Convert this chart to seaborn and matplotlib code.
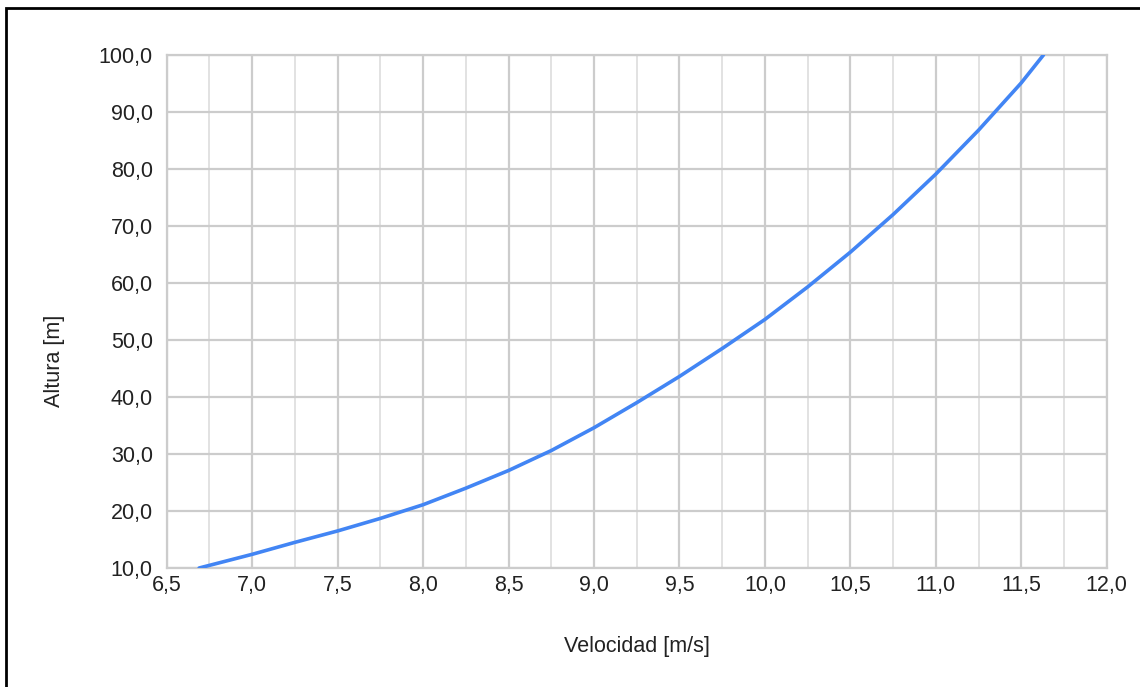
import matplotlib
matplotlib.use("Agg")
import matplotlib.pyplot as plt
from matplotlib.patches import Rectangle
from matplotlib.ticker import MultipleLocator, FuncFormatter
import seaborn as sns
import pandas as pd

# Wind speed vs. height profile
velocidad = [6.69, 7.0, 7.25, 7.5, 7.75, 8.0, 8.25, 8.5, 8.75, 9.0, 9.25,
             9.5, 9.75, 10.0, 10.25, 10.5, 10.75, 11.0, 11.25, 11.5, 11.63]
altura = [10.0, 12.4, 14.5, 16.5, 18.7, 21.1, 24.0, 27.1, 30.6, 34.6, 39.0,
          43.6, 48.5, 53.6, 59.3, 65.4, 72.0, 79.1, 86.8, 95.1, 100.0]

x_label = "Velocidad [m/s]"
y_label = "Altura [m]"

df = pd.DataFrame({x_label: velocidad, y_label: altura})

sns.set_theme(style="white")
plt.rcParams["font.family"] = ["Liberation Sans", "DejaVu Sans"]

fig = plt.figure(figsize=(11.4, 6.87), dpi=100)
ax = fig.add_axes([0.1462, 0.1732, 0.9708 - 0.1462, 0.92 - 0.1732])

sns.lineplot(data=df, x=x_label, y=y_label, ax=ax, color="#4285F4",
             linewidth=2.6, sort=False, zorder=3)

ax.set_xlim(6.5, 12.0)
ax.set_ylim(10, 100)
ax.xaxis.set_major_locator(MultipleLocator(0.5))
ax.xaxis.set_minor_locator(MultipleLocator(0.25))
ax.yaxis.set_major_locator(MultipleLocator(10))

comma = FuncFormatter(lambda v, p: f"{v:.1f}".replace(".", ","))
ax.xaxis.set_major_formatter(comma)
ax.yaxis.set_major_formatter(comma)

ax.grid(which="major", axis="both", color="#cccccc", linewidth=1.6)
ax.grid(which="minor", axis="x", color="#e2e2e2", linewidth=1.4)
ax.set_axisbelow(True)

for side in ax.spines.values():
    side.set_color("#cccccc")
    side.set_linewidth(1.6)

ax.tick_params(axis="both", which="both", length=0, labelsize=15.5,
               colors="#222222")
ax.tick_params(axis="x", pad=5)
ax.tick_params(axis="y", pad=10)

ax.set_xlabel(x_label, fontsize=15.5, color="#222222", labelpad=29)
ax.set_ylabel(y_label, fontsize=15.5, color="#222222")
ax.yaxis.set_label_coords(-0.108, 0.403)

# Outer frame (top and left edges visible)
fig.patches.append(Rectangle((6 / 1140, -0.1), 1.2, 1.1 - 8 / 687,
                             transform=fig.transFigure, fill=False,
                             edgecolor="black", linewidth=2.0))

fig.savefig("out.png", dpi=100)
